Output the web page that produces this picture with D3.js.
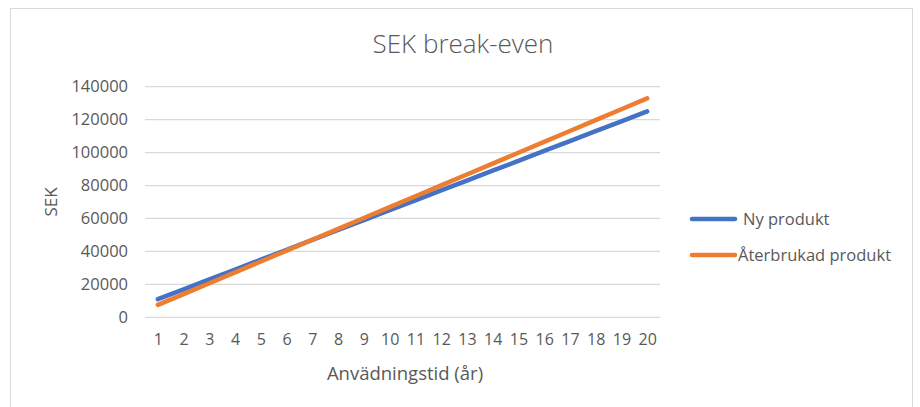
<!DOCTYPE html>
<html>
<head>
<meta charset="utf-8">
<script src="https://cdn.jsdelivr.net/npm/d3@7"></script>
<style>
  body { margin: 0; background: #fff; }
  text { font-family: "Open Sans", sans-serif; fill: #595959; }
</style>
</head>
<body>
<div id="chart"></div>
<script>
const years = [1, 2, 3, 4, 5, 6, 7, 8, 9, 10, 11, 12, 13, 14, 15, 16, 17, 18, 19, 20];
const nyProdukt = [11000, 17000, 23000, 29000, 35000, 41000, 47000, 53000, 59000, 65000,
  71000, 77000, 83000, 89000, 95000, 101000, 107000, 113000, 119000, 125000];
const aterbrukad = [7500, 14100, 20700, 27300, 33900, 40500, 47100, 53700, 60300, 66900,
  73500, 80100, 86700, 93300, 99900, 106500, 113100, 119700, 126300, 132900];
const yTicks = [0, 20000, 40000, 60000, 80000, 100000, 120000, 140000];
const seriesNames = ["Ny produkt", "Återbrukad produkt"];
const colors = ["#4472C4", "#ED7D31"];

const width = 920, height = 407;
const plot = { left: 145, right: 660, top: 86.7, bottom: 317.3 };

const svg = d3.select("#chart").append("svg")
  .attr("width", width)
  .attr("height", height);

// ram
svg.append("rect")
  .attr("x", 10.5).attr("y", 8.5)
  .attr("width", 902).attr("height", 410)
  .attr("fill", "#fff")
  .attr("stroke", "#d9d9d9");

const x = d3.scalePoint()
  .domain(years)
  .range([plot.left, plot.right])
  .padding(0.5);

const y = d3.scaleLinear()
  .domain([0, 140000])
  .range([plot.bottom, plot.top]);

// rutnät
svg.append("g")
  .selectAll("line")
  .data(yTicks)
  .enter()
  .append("line")
  .attr("x1", plot.left).attr("x2", plot.right)
  .attr("y1", (d) => y(d)).attr("y2", (d) => y(d))
  .attr("stroke", "#d9d9d9")
  .attr("stroke-width", 1.3);

// y-axel
const yAxis = svg.append("g")
  .attr("transform", `translate(${plot.left - 11}, 0)`)
  .call(d3.axisLeft(y).tickValues(yTicks).tickSize(0).tickPadding(6).tickFormat(d3.format("d")));
yAxis.select(".domain").remove();
yAxis.selectAll("text").style("font-size", "16.5px").attr("fill", "#595959");

// x-axel
const xAxis = svg.append("g")
  .attr("transform", `translate(0, ${plot.bottom + 16})`)
  .call(d3.axisBottom(x).tickSize(0).tickPadding(0));
xAxis.select(".domain").remove();
xAxis.selectAll("text").style("font-size", "16px").attr("fill", "#595959");

// linjer
const line = d3.line()
  .x((d, i) => x(years[i]))
  .y((d) => y(d));

[nyProdukt, aterbrukad].forEach((values, i) => {
  svg.append("path")
    .datum(values)
    .attr("fill", "none")
    .attr("stroke", colors[i])
    .attr("stroke-width", 4.5)
    .attr("stroke-linecap", "round")
    .attr("d", line);
});

// titlar
svg.append("text")
  .attr("x", 463).attr("y", 53)
  .attr("text-anchor", "middle")
  .style("font-size", "26px")
  .style("font-weight", 300)
  .text("SEK break-even");

svg.append("text")
  .attr("x", 405).attr("y", 380)
  .attr("text-anchor", "middle")
  .style("font-size", "18.5px")
  .text("Anvädningstid (år)");

svg.append("text")
  .attr("transform", "translate(57, 202) rotate(-90)")
  .attr("text-anchor", "middle")
  .style("font-size", "17px")
  .text("SEK");

// förklaring
const legend = svg.append("g");
const legendY = [219, 255];
seriesNames.forEach((name, i) => {
  legend.append("line")
    .attr("x1", 692).attr("x2", 735)
    .attr("y1", legendY[i]).attr("y2", legendY[i])
    .attr("stroke", colors[i])
    .attr("stroke-width", 4.5)
    .attr("stroke-linecap", "round");
  legend.append("text")
    .attr("x", i === 0 ? 743 : 738)
    .attr("y", legendY[i] + 6)
    .style("font-size", "16.5px")
    .text(name);
});
</script>
</body>
</html>
